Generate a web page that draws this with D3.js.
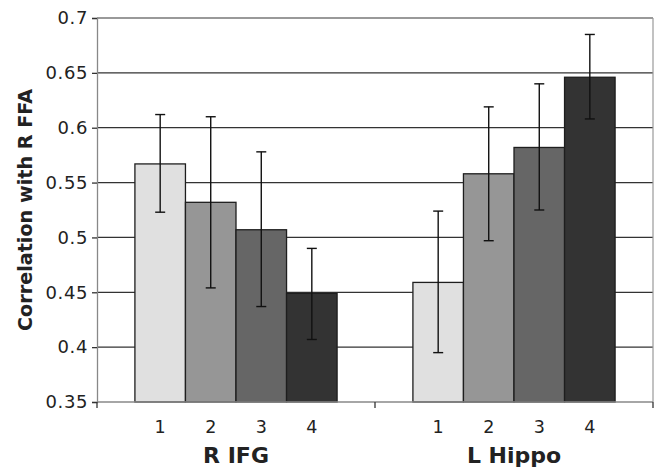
<!DOCTYPE html>
<html lang="en">
    <head>
        <meta charset="UTF-8">
        <title>Correlation with R FFA</title>
        <script type="text/javascript" src="https://cdnjs.cloudflare.com/ajax/libs/d3/7.8.5/d3.min.js"></script>
        <style>
            html, body { margin: 0; padding: 0; background: #fff; }
            svg { display: block; font-family: "DejaVu Sans", Verdana, sans-serif; }
        </style>
    </head>
    <body>
        <div id="chart"></div>
        <script type="text/javascript">
            var regions = ['R IFG', 'L Hippo'];
            var levels = ['1', '2', '3', '4'];

            // bar heights per region, one value per level
            var means = [
                [0.567, 0.532, 0.507, 0.449],
                [0.459, 0.558, 0.582, 0.646]
            ];
            var errLow = [
                [0.523, 0.454, 0.437, 0.407],
                [0.395, 0.497, 0.525, 0.608]
            ];
            var errHigh = [
                [0.612, 0.610, 0.578, 0.490],
                [0.524, 0.619, 0.640, 0.685]
            ];
            var yTicks = [0.35, 0.4, 0.45, 0.5, 0.55, 0.6, 0.65, 0.7];

            var fills = ['#e0e0e0', '#969696', '#666666', '#333333'];

            var W = 658, H = 468;
            var margin = { top: 18, right: 5, bottom: 66, left: 97 };
            var width = W - margin.left - margin.right;
            var height = H - margin.top - margin.bottom;

            var svg = d3.select('#chart').append('svg')
                .attr('width', W)
                .attr('height', H);

            var g = svg.append('g')
                .attr('transform', 'translate(' + margin.left + ',' + margin.top + ')');

            var y = d3.scaleLinear().domain([0.35, 0.7]).range([height, 0]);
            var x0 = d3.scaleBand().domain(regions).range([0, width]);

            // excel style: gap between groups is 1.5 bar widths
            var barW = x0.bandwidth() / 5.5;
            var x1 = d3.scaleBand().domain(levels)
                .range([barW * 0.75, x0.bandwidth() - barW * 0.75]);

            // gridlines
            g.selectAll('line.grid')
                .data(yTicks.slice(1))
                .enter().append('line')
                .attr('class', 'grid')
                .attr('x1', 0)
                .attr('x2', width)
                .attr('y1', function (d) { return y(d); })
                .attr('y2', function (d) { return y(d); })
                .attr('stroke', function (d) { return d === 0.7 ? '#777' : '#333'; })
                .attr('stroke-width', 1.3);

            // right border
            g.append('line')
                .attr('x1', width).attr('x2', width)
                .attr('y1', 0).attr('y2', height)
                .attr('stroke', '#999').attr('stroke-width', 1.2);

            var rows = regions.map(function (r, i) {
                return levels.map(function (l, j) {
                    return { region: r, level: l, j: j, v: means[i][j], lo: errLow[i][j], hi: errHigh[i][j] };
                });
            });

            var groups = g.selectAll('g.region')
                .data(rows)
                .enter().append('g')
                .attr('class', 'region')
                .attr('transform', function (d, i) { return 'translate(' + x0(regions[i]) + ',0)'; });

            groups.selectAll('rect')
                .data(function (d) { return d; })
                .enter().append('rect')
                .attr('x', function (d) { return x1(d.level); })
                .attr('width', x1.bandwidth())
                .attr('y', function (d) { return y(d.v); })
                .attr('height', function (d) { return height - y(d.v); })
                .attr('fill', function (d) { return fills[d.j]; })
                .attr('stroke', '#1e1e1e')
                .attr('stroke-width', 1.3);

            // error bars
            var cx = function (d) { return x1(d.level) + x1.bandwidth() / 2; };
            var err = groups.selectAll('g.err')
                .data(function (d) { return d; })
                .enter().append('g')
                .attr('class', 'err')
                .attr('stroke', '#111')
                .attr('stroke-width', 1.4);
            err.append('line')
                .attr('x1', cx).attr('x2', cx)
                .attr('y1', function (d) { return y(d.lo); })
                .attr('y2', function (d) { return y(d.hi); });
            err.append('line')
                .attr('x1', function (d) { return cx(d) - 5; })
                .attr('x2', function (d) { return cx(d) + 5; })
                .attr('y1', function (d) { return y(d.hi); })
                .attr('y2', function (d) { return y(d.hi); });
            err.append('line')
                .attr('x1', function (d) { return cx(d) - 5; })
                .attr('x2', function (d) { return cx(d) + 5; })
                .attr('y1', function (d) { return y(d.lo); })
                .attr('y2', function (d) { return y(d.lo); });

            // level labels under each bar
            groups.selectAll('text.level')
                .data(function (d) { return d; })
                .enter().append('text')
                .attr('class', 'level')
                .attr('x', cx)
                .attr('y', height + 31)
                .attr('text-anchor', 'middle')
                .attr('font-size', '17.5px')
                .attr('fill', '#222')
                .text(function (d) { return d.level; });

            // y axis
            var yAxis = g.append('g')
                .call(d3.axisLeft(y).tickValues(yTicks).tickSize(5).tickPadding(4)
                    .tickFormat(function (d) { return String(d); }));
            yAxis.select('.domain').attr('stroke', '#888').attr('stroke-width', 1.3);
            yAxis.selectAll('.tick line').attr('stroke', '#333').attr('stroke-width', 1.3);
            yAxis.selectAll('.tick text')
                .attr('font-size', '18px')
                .attr('letter-spacing', '0.6px')
                .attr('font-family', '"DejaVu Sans", Verdana, sans-serif')
                .attr('fill', '#222');

            // x axis: ticks on group boundaries
            var xAxis = g.append('g')
                .attr('transform', 'translate(0,' + height + ')');
            xAxis.append('line')
                .attr('x1', 0).attr('x2', width)
                .attr('stroke', '#888').attr('stroke-width', 1.3);
            xAxis.selectAll('line.tick')
                .data([0, 1, 2])
                .enter().append('line')
                .attr('class', 'tick')
                .attr('x1', function (d) { return d * x0.step(); })
                .attr('x2', function (d) { return d * x0.step(); })
                .attr('y1', 0).attr('y2', 6)
                .attr('stroke', '#333').attr('stroke-width', 1.3);

            // region labels
            g.selectAll('text.region')
                .data(regions)
                .enter().append('text')
                .attr('class', 'region')
                .attr('x', function (d) { return x0(d) + x0.bandwidth() / 2; })
                .attr('y', height + 61)
                .attr('text-anchor', 'middle')
                .attr('font-size', '22px')
                .attr('font-weight', 'bold')
                .attr('fill', '#222')
                .text(function (d) { return d; });

            // y title
            svg.append('text')
                .attr('transform', 'translate(32,' + (margin.top + height / 2) + ') rotate(-90)')
                .attr('text-anchor', 'middle')
                .attr('font-size', '19.2px')
                .attr('font-weight', 'bold')
                .attr('fill', '#222')
                .text('Correlation with R FFA');
        </script>
    </body>
</html>
